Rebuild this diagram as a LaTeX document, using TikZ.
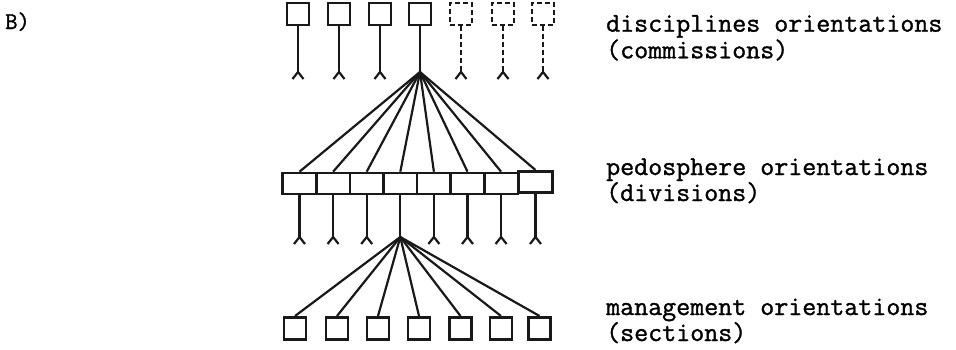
\documentclass[tikz,border=0pt]{standalone}
\usepackage{fontspec}
\newfontfamily\typewriter[FakeBold=1.2]{Latin Modern Mono}
\begin{document}
\begin{tikzpicture}[x=1pt,y=-1pt,
  ink/.style={draw=black!90, line width=2.6pt},
  sqbox/.style={ink, minimum width=22pt, minimum height=22pt, inner sep=0pt},
  dashbox/.style={sqbox, dash pattern=on 5pt off 3pt},
  cellbox/.style={ink, minimum width=33.6pt, minimum height=21pt, inner sep=0pt, fill=white},
  wire/.style={draw=black!90, line width=2.2pt},
  dashwire/.style={wire, dash pattern=on 5pt off 3pt},
  label/.style={anchor=base west, inner sep=0pt, font=\typewriter\fontsize{27.2}{30}\selectfont},
]
\useasboundingbox (0,0) rectangle (956,349);

% panel letter
\node[anchor=base west, inner sep=0pt, font=\typewriter\fontsize{24}{28}\selectfont] (tag) at (5,29) {B)};

% ---------- top row: commissions ----------
\foreach \i/\x in {1/298,2/339,3/380,4/420}{
  \node[sqbox] (t\i) at (\x,14) {};
}
\foreach \i/\x in {5/461,6/503,7/543}{
  \node[dashbox] (t\i) at (\x,14) {};
}
% stems ending in a fork
\foreach \i/\x in {1/298,2/339,3/380}{
  \coordinate (tf\i) at (\x,72);
  \coordinate (tl\i) at (\x-5.5,79);
  \coordinate (tr\i) at (\x+5.5,79);
  \draw[wire] (t\i.south) -- (tf\i);
  \draw[wire] (tl\i) -- (tf\i) -- (tr\i);
}
\foreach \i/\x in {5/461,6/503,7/543}{
  \coordinate (tf\i) at (\x,72);
  \coordinate (tl\i) at (\x-5.5,79);
  \coordinate (tr\i) at (\x+5.5,79);
  \draw[dashwire] (t\i.south) -- (tf\i);
  \draw[wire] (tl\i) -- (tf\i) -- (tr\i);
}
% fan from commission 4
\coordinate (tfan) at (420,72);
\draw[wire] (t4.south) -- (tfan);

% ---------- middle bar: divisions ----------
\foreach \i/\x in {1/299.5,2/333.1,3/366.7,4/400.3,5/433.9,6/467.5,7/501.1}{
  \node[cellbox] (m\i) at (\x,183.5) {};
}
\node[cellbox, minimum width=34pt] (m8) at (535.5,181.8) {};

\foreach \i in {1,...,8}{
  \draw[wire] (tfan) -- (m\i.north);
}

\foreach \i/\x in {1/299.5,2/333.1,3/366.7,5/433.9,6/467.5,7/501.1,8/535.5}{
  \coordinate (mf\i) at (\x,237);
  \coordinate (ml\i) at (\x-5.5,244);
  \coordinate (mr\i) at (\x+5.5,244);
  \draw[wire] (m\i.south) -- (mf\i);
  \draw[wire] (ml\i) -- (mf\i) -- (mr\i);
}
\coordinate (mfan) at (400.3,237);
\draw[wire] (m4.south) -- (mfan);

% ---------- bottom row: sections ----------
\foreach \i/\x in {1/295,2/337,3/378,4/419,5/460.5,6/501,7/539.5}{
  \node[sqbox] (b\i) at (\x,328.3) {};
  \draw[wire] (mfan) -- (b\i.north);
}

% ---------- level captions ----------
\node[label] (l1a) at (606,31.7) {disciplines orientations};
\node[label] (l1b) at (606,58.3) {(commissions)};
\node[label] (l2a) at (606,175) {pedosphere orientations};
\node[label] (l2b) at (606,201) {(divisions)};
\node[label] (l3a) at (606,315) {management orientations};
\node[label] (l3b) at (606,341) {(sections)};
\end{tikzpicture}
\end{document}
